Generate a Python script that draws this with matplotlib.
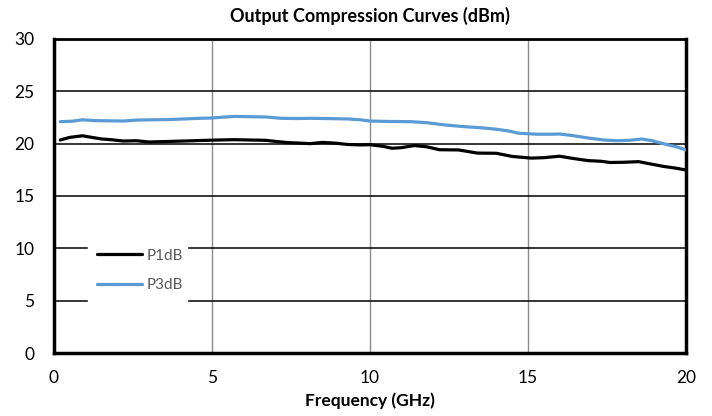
import matplotlib
matplotlib.use("Agg")
import matplotlib.pyplot as plt

plt.rcParams['font.family'] = ['Lato', 'DejaVu Sans']

title = "Output Compression Curves (dBm)"
xlabel = "Frequency (GHz)"
series_names = ["P1dB", "P3dB"]

freq_p1 = [0.2, 0.5, 0.9, 1.2, 1.5, 1.8, 2.2, 2.6, 3.0, 3.5, 4.1, 4.6, 5.2, 5.7, 6.2, 6.7, 7.0, 7.4, 7.8,
           8.1, 8.5, 8.9, 9.3, 9.7, 10.0, 10.4, 10.7, 11.0, 11.4, 11.8, 12.2, 12.8, 13.4, 14.0, 14.5,
           15.1, 15.5, 16.0, 16.4, 16.9, 17.3, 17.6, 18.0, 18.5, 18.9, 19.3, 19.7, 20.0]
p1db = [20.35, 20.6, 20.75, 20.6, 20.45, 20.38, 20.25, 20.28, 20.16, 20.2, 20.25, 20.3, 20.35, 20.38, 20.35,
        20.32, 20.22, 20.1, 20.05, 20.0, 20.12, 20.05, 19.92, 19.88, 19.9, 19.75, 19.56, 19.62, 19.82, 19.7,
        19.42, 19.4, 19.1, 19.08, 18.78, 18.62, 18.66, 18.8, 18.6, 18.38, 18.32, 18.2, 18.22, 18.28, 18.05,
        17.82, 17.65, 17.48]

freq_p3 = [0.2, 0.6, 0.9, 1.3, 1.8, 2.2, 2.6, 3.1, 3.6, 4.1, 4.6, 5.0, 5.3, 5.7, 6.1, 6.7, 7.2, 7.7, 8.1,
           8.6, 9.3, 9.7, 10.0, 10.6, 11.3, 11.8, 12.4, 13.0, 13.5, 14.0, 14.4, 14.7, 15.3, 15.7, 16.0,
           16.4, 16.9, 17.4, 17.8, 18.2, 18.6, 18.9, 19.3, 19.7, 20.0]
p3db = [22.1, 22.15, 22.28, 22.2, 22.18, 22.16, 22.25, 22.28, 22.3, 22.36, 22.42, 22.45, 22.52, 22.6, 22.58,
        22.55, 22.42, 22.4, 22.42, 22.4, 22.36, 22.28, 22.16, 22.12, 22.1, 22.0, 21.78, 21.62, 21.52, 21.38,
        21.2, 21.0, 20.9, 20.9, 20.92, 20.78, 20.54, 20.35, 20.28, 20.32, 20.44, 20.3, 19.98, 19.7, 19.4]

xticks = [0, 5, 10, 15, 20]
yticks = [0, 5, 10, 15, 20, 25, 30]

fig = plt.figure(figsize=(7.12, 4.16), dpi=100)
ax = fig.add_axes([0.0758, 0.1514, 0.8877, 0.7549])

ax.plot(freq_p1, p1db, color="black", lw=2.3, label=series_names[0], solid_capstyle='round', zorder=3)
ax.plot(freq_p3, p3db, color="#5B9BD5", lw=2.3, label=series_names[1], solid_capstyle='round', zorder=3)

ax.set_xlim(0, 20)
ax.set_ylim(0, 30)
ax.set_xticks(xticks)
ax.set_yticks(yticks)
ax.tick_params(length=0, labelsize=12.5, colors="black")
ax.tick_params(axis='y', pad=14)
ax.tick_params(axis='x', pad=12)

ax.yaxis.grid(True, color="black", lw=1.1)
ax.xaxis.grid(True, color="#8c8c8c", lw=1.0)
ax.set_axisbelow(True)

for side in ["left", "bottom", "right"]:
    ax.spines[side].set_linewidth(2.5)
    ax.spines[side].set_color("black")
ax.spines["top"].set_linewidth(2.0)
ax.spines["top"].set_color("black")

ax.set_title(title, fontsize=13, fontweight="bold", pad=12)
ax.set_xlabel(xlabel, fontsize=12.5, fontweight="bold", labelpad=5)

leg = ax.legend(loc="lower left", bbox_to_anchor=(0.054, 0.165, 0.157, 0.21), mode="expand",
                frameon=True, fancybox=False, fontsize=11, handlelength=2.9, handletextpad=0.3,
                labelspacing=1.0, borderaxespad=0, borderpad=0.6)
leg.get_frame().set_facecolor("white")
leg.get_frame().set_edgecolor("white")
leg.get_frame().set_alpha(1)
for t in leg.get_texts():
    t.set_color("#595959")

fig.savefig("out.png", dpi=100)
